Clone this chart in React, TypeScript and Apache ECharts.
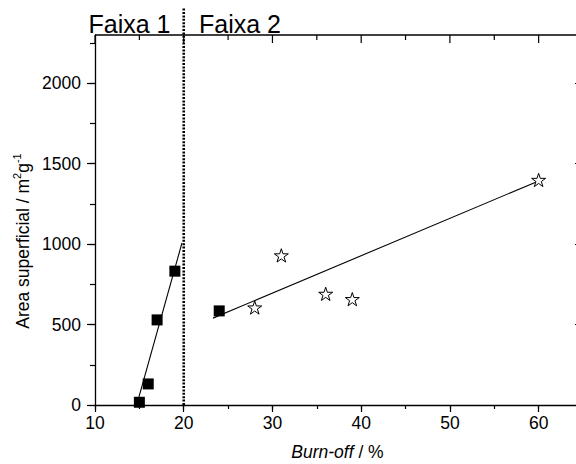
import React, { useEffect, useRef } from "react";
import * as echarts from "echarts";

const squareX = [15, 16, 17, 19, 24];
const squareY = [17, 131, 529, 832, 585];
const starX = [28, 31, 36, 39, 60];
const starY = [606, 930, 691, 658, 1399];
const fit1X = [14.75, 19.8];
const fit1Y = [10, 1007];
const fit2X = [23.3, 59.8];
const fit2Y = [540, 1388];
const boundaryX = [20, 20];
const boundaryY = [0, 2470];
const xRange = [10, 65];
const yRange = [0, 2300];
const xMajorStep = 10;
const xMinorStep = 5;
const xLastLabel = 60;
const xTopMajor = [10, 20, 30, 40, 50, 60];
const xTopMinor = [15, 25, 35, 45, 55];
const yMajorStep = 500;
const yMinorStep = 250;
const yLastMajor = 2000;
const yLastMinor = 2250;
const regionLabels = ["Faixa 1", "Faixa 2"];
const yTitle = "Area superficial / m{s|2}g{s|-1}";
const xTitle = "{i|Burn-off} / %";

const FONT = "'Liberation Sans', Arial, sans-serif";
const STAR =
  "path://M50,0 L61.23,34.55 L97.55,34.55 L68.16,55.9 L79.39,90.45 L50,69.1 L20.61,90.45 L31.84,55.9 L2.45,34.55 L38.77,34.55 Z";

const zip = (xs: number[], ys: number[]) => xs.map((x, i) => [x, ys[i]]);

export default function App() {
  const ref = useRef<HTMLDivElement>(null);
  useEffect(() => {
    if (!ref.current) return;
    const chart = echarts.init(ref.current, null, { renderer: "svg" });
    const G_LEFT = 95, G_RIGHT = -7, G_TOP = 35, G_BOTTOM = 59, H = 464;
    const plotH = H - G_TOP - G_BOTTOM;
    const topFor = (v: number) => H - G_BOTTOM - (plotH * v) / yRange[1];
    const tickStyle = { color: "#000", width: 1.2 };
    const mkGrid = (top: number) => ({
      left: G_LEFT, right: G_RIGHT, top, bottom: G_BOTTOM, containLabel: false, outerBoundsMode: "none",
    });
    const xAx = (gridIndex: number, extra: any) => ({
      type: "value", min: xRange[0], max: xRange[1], gridIndex, splitLine: { show: false },
      axisLine: { show: false, onZero: false }, axisLabel: { show: false }, axisTick: { show: false }, ...extra,
    });
    const yAx = (gridIndex: number, max: number, extra: any) => ({
      type: "value", min: yRange[0], max, gridIndex, splitLine: { show: false },
      axisLine: { show: false, onZero: false }, axisLabel: { show: false }, axisTick: { show: false }, ...extra,
    });
    const frameLine = { show: true, onZero: false, lineStyle: { color: "#000", width: 1.3 } };
    const topTicks = (values: number[], len: number) => ({
      type: "custom", xAxisIndex: 0, yAxisIndex: 0, clip: false, silent: true, z: 6,
      data: values.map((v) => [v, yRange[1]]),
      renderItem: (_p: any, api: any) => {
        const pt = api.coord([api.value(0), yRange[1]]);
        return { type: "line", shape: { x1: pt[0], y1: pt[1], x2: pt[0], y2: pt[1] + len },
          style: { stroke: "#000", lineWidth: 1.2 } };
      },
    });
    const option: any = {
      animation: false,
      backgroundColor: "#fff",
      textStyle: { fontFamily: FONT },
      grid: [mkGrid(G_TOP), mkGrid(topFor(yLastMinor)), mkGrid(topFor(yLastMajor))],
      xAxis: [
        xAx(0, { position: "bottom", interval: xMajorStep, axisLine: frameLine,
          axisTick: { show: true, inside: false, length: 7, lineStyle: tickStyle },
          axisLabel: { show: true, margin: 9, fontSize: 17.5, color: "#000", fontFamily: FONT,
            formatter: (v: number) => (v <= xLastLabel && v % xMajorStep === 0 ? String(v) : "") } }),
        xAx(1, { position: "bottom", interval: xMinorStep,
          axisTick: { show: true, inside: false, length: 4, lineStyle: tickStyle } }),
        xAx(2, { show: false }),
      ],
      yAxis: [
        yAx(0, yRange[1], { position: "left", axisLine: frameLine }),
        yAx(1, yLastMinor, { position: "left", interval: yMinorStep,
          axisTick: { show: true, inside: false, length: 5, lineStyle: tickStyle } }),
        yAx(1, yLastMinor, { position: "right", interval: yMinorStep,
          axisTick: { show: true, inside: true, length: 5, lineStyle: tickStyle } }),
        yAx(2, yLastMajor, { position: "left", interval: yMajorStep,
          axisTick: { show: true, inside: false, length: 8, lineStyle: tickStyle },
          axisLabel: { show: true, margin: 14, fontSize: 17.5, color: "#000", fontFamily: FONT,
            formatter: (v: number) => String(v) } }),
        yAx(2, yLastMajor, { position: "right", interval: yMajorStep,
          axisTick: { show: true, inside: true, length: 8, lineStyle: tickStyle } }),
      ],
      series: [
        { type: "line", xAxisIndex: 0, yAxisIndex: 0, data: zip(boundaryX, boundaryY), clip: false,
          showSymbol: false, symbol: "none", silent: true,
          lineStyle: { color: "#000", width: 2.6, type: [2, 1.4] } },
        { type: "line", xAxisIndex: 0, yAxisIndex: 0, data: zip(xRange, [yRange[1], yRange[1]]), clip: false,
          showSymbol: false, symbol: "none", silent: true, z: 6,
          lineStyle: { color: "#000", width: 1.3 } },
        topTicks(xTopMajor, 8),
        topTicks(xTopMinor, 5),
        { type: "line", xAxisIndex: 0, yAxisIndex: 0, data: zip(fit1X, fit1Y), symbol: "none",
          lineStyle: { color: "#000", width: 1.1 } },
        { type: "line", xAxisIndex: 0, yAxisIndex: 0, data: zip(fit2X, fit2Y), symbol: "none",
          lineStyle: { color: "#000", width: 1.1 } },
        { type: "scatter", xAxisIndex: 0, yAxisIndex: 0, data: zip(squareX, squareY), symbol: "rect",
          symbolSize: 11, itemStyle: { color: "#000", opacity: 1 }, z: 5 },
        { type: "scatter", xAxisIndex: 0, yAxisIndex: 0, data: zip(starX, starY), symbol: STAR,
          symbolSize: 14, symbolKeepAspect: true,
          itemStyle: { color: "#fff", borderColor: "#000", borderWidth: 1, opacity: 1 }, z: 5 },
      ],
      graphic: [
        { type: "text", x: 129.5, y: 24, z: 10,
          style: { text: regionLabels[0], fontSize: 25, fontFamily: FONT, fill: "#000", align: "center", verticalAlign: "middle" } },
        { type: "text", x: 240, y: 24, z: 10,
          style: { text: regionLabels[1], fontSize: 25, fontFamily: FONT, fill: "#000", align: "center", verticalAlign: "middle" } },
        { type: "text", x: 337.5, y: 451.5, z: 10,
          style: { text: xTitle, fontSize: 17.5, fontFamily: FONT, fill: "#000", align: "center", verticalAlign: "middle",
            rich: { i: { fontStyle: "italic", fontSize: 17.5, fontFamily: FONT, fill: "#000" } } } },
        { type: "text", x: 23, y: 241, rotation: Math.PI / 2, z: 10,
          style: { text: yTitle, fontSize: 17.5, fontFamily: FONT, fill: "#000",
            align: "center", verticalAlign: "middle", lineHeight: 24,
            rich: { s: { fontSize: 11, fontFamily: FONT, fill: "#000", verticalAlign: "top", lineHeight: 12 } } } },
      ],
    };
    chart.setOption(option);
    return () => chart.dispose();
  }, []);
  return <div ref={ref} style={{ width: 576, height: 464, position: "absolute", left: 0, top: 0 }} />;
}
